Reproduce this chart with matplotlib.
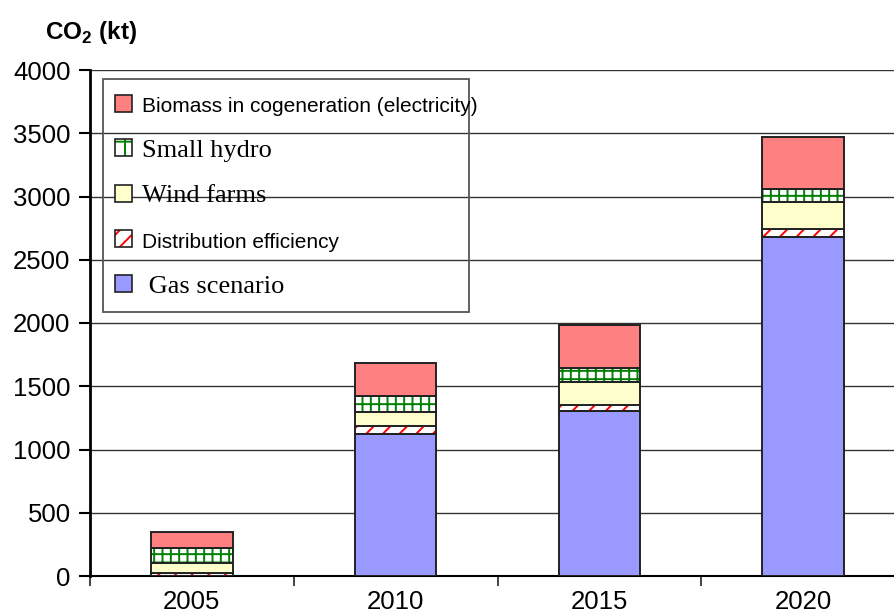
import matplotlib
matplotlib.use("Agg")
import matplotlib.pyplot as plt
from matplotlib.patches import Patch, Rectangle
import numpy as np

# Dados (kt de CO2)
anos = ["2005", "2010", "2015", "2020"]
gas = [0, 1125, 1305, 2680]
distribuicao = [25, 60, 45, 60]
eolica = [80, 115, 180, 220]
hidrica = [115, 125, 115, 100]
biomassa = [125, 260, 340, 410]

rotulos = [
    "Biomass in cogeneration (electricity)",
    "Small hydro",
    "Wind farms",
    "Distribution efficiency",
    " Gas scenario",
]

plt.rcParams["mathtext.fontset"] = "custom"
plt.rcParams["mathtext.rm"] = "Liberation Sans"
plt.rcParams["mathtext.bf"] = "Liberation Sans:bold"
plt.rcParams["hatch.linewidth"] = 1.4

fig = plt.figure(figsize=(8.95, 6.14), dpi=100)
ax = fig.add_axes([90 / 895, 38 / 614, 815 / 895, 506 / 614])

x = np.arange(len(anos))
largura = 0.4

# Camadas empilhadas: (valores, cor de fundo, hachura da barra, hachura da legenda, cor da hachura)
camadas = [
    (gas, "#9999ff", None, None, None),
    (distribuicao, "white", "//", "//", "red"),
    (eolica, "#ffffcc", None, None, None),
    (hidrica, "white", "++", "+", "green"),
    (biomassa, "#ff8080", None, None, None),
]

base = np.zeros(len(anos))
for valores, cor, hachura, _, cor_h in camadas:
    valores = np.array(valores, dtype=float)
    if hachura:
        ax.bar(x, valores, largura, bottom=base, color=cor, hatch=hachura,
               edgecolor=cor_h, linewidth=0, zorder=2)
        ax.bar(x, valores, largura, bottom=base, facecolor="none",
               edgecolor="#222222", linewidth=1.4, zorder=3)
    else:
        ax.bar(x, valores, largura, bottom=base, color=cor,
               edgecolor="#222222", linewidth=1.4, zorder=3)
    base += valores

# Eixos
ax.set_xlim(-0.5, 3.5)
ax.set_ylim(0, 4000)
ax.set_yticks(np.arange(0, 4001, 500))
ax.yaxis.grid(True, color="#333333", linewidth=1)
ax.set_axisbelow(True)
ax.set_xticks(x)
ax.set_xticklabels(anos)
ax.set_xticks(np.arange(-0.5, 4, 1), minor=True)
ax.tick_params(axis="x", which="major", length=0, pad=10,
               labelsize=18.5, labelfontfamily="Liberation Sans")
ax.tick_params(axis="x", which="minor", length=7.5, width=1.3,
               direction="out", color="#333333")
ax.tick_params(axis="y", length=8, width=1.5, pad=6, labelsize=18.5,
               labelfontfamily="Liberation Sans")
for lado in ["top", "right"]:
    ax.spines[lado].set_visible(False)
ax.spines["left"].set_linewidth(2)
ax.spines["bottom"].set_linewidth(1.5)

fig.text(91 / 895, 1 - 39 / 614, r"$\mathbf{CO}_\mathbf{2}$ (kt)",
         ha="center", va="baseline", fontsize=17.5, fontweight="bold",
         family="Liberation Sans")

# Legenda (na ordem inversa das camadas); alças hachuradas com borda preta por cima
alcas = []
for valores, cor, _, hachura_leg, cor_h in camadas[::-1]:
    borda = Patch(facecolor="none", edgecolor="#222222", linewidth=1.2)
    if hachura_leg:
        fundo = Patch(facecolor=cor, edgecolor=cor_h, hatch=hachura_leg, linewidth=0)
        alcas.append((fundo, borda))
    else:
        alcas.append(Patch(facecolor=cor, edgecolor="#222222", linewidth=1.2))

leg = ax.legend(alcas, rotulos, loc="upper left",
                bbox_to_anchor=(14 / 815, (576 - 84) / 506),
                borderaxespad=0, frameon=False, fontsize=19,
                handlelength=0.65, handleheight=0.62, handletextpad=0.38,
                labelspacing=0.86)
for t, lab in zip(leg.get_texts(), rotulos):
    if lab.strip() in ("Small hydro", "Wind farms", "Gas scenario"):
        t.set_fontfamily("Liberation Serif")
        t.set_fontsize(19)
    else:
        t.set_fontfamily("Liberation Sans")
        t.set_fontsize(15)

# Moldura da legenda
ax.add_patch(Rectangle((13 / 815, (576 - 312) / 506), 366 / 815, 233 / 506,
                       transform=ax.transAxes, facecolor="none",
                       edgecolor="#555555", linewidth=1.3, zorder=4))
leg.set_zorder(5)

fig.savefig("out.png", dpi=100, facecolor="white")
